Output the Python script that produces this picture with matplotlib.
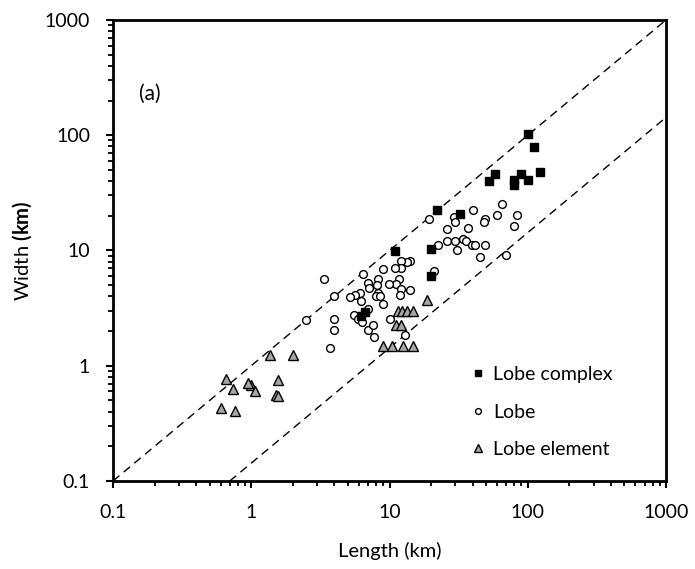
import numpy as np
import matplotlib
matplotlib.use("Agg")
import matplotlib.pyplot as plt
from matplotlib.ticker import LogLocator, FuncFormatter

plt.rcParams['font.family'] = ['Lato', 'DejaVu Sans']
plt.rcParams['mathtext.fontset'] = 'custom'
plt.rcParams['mathtext.rm'] = 'Lato'
plt.rcParams['mathtext.bf'] = 'Lato:bold'

# Lobe complex (filled squares)
complex_len = [100, 111, 122, 100, 90, 80, 79, 58, 52, 22, 32.5, 11, 20, 20, 6.6, 6.2]
complex_wid = [102, 79, 48, 41, 46, 41, 37, 46, 40, 22.3, 20.8, 9.9, 10.2, 6.0, 2.9, 2.7]

# Lobe (open circles)
lobe_len = [65, 40, 60, 83, 19.2, 29.4, 30, 49.4, 48, 26.2, 36.8, 79.6, 22.5, 25.9,
            29.6, 33.8, 35.8, 39.3, 41.3, 49.1, 30.8, 45.4, 69.6, 14.0, 13.3, 12.1,
            12.2, 11.0, 8.9, 6.4, 21.0, 11.8, 8.3, 3.36, 11.1, 9.9, 12.1, 12.0, 14.1,
            7.0, 7.1, 8.1, 8.3, 8.0, 8.5, 9.0, 6.1, 5.6, 5.15, 6.2, 4.0, 2.5, 4.0,
            4.0, 3.7, 5.5, 5.9, 6.3, 7.0, 7.0, 7.6, 7.75, 10.0, 12.9]
lobe_wid = [25.3, 22.4, 20.3, 20.3, 18.9, 19.6, 17.8, 18.7, 17.8, 15.4, 15.8, 16.3, 11.2, 12.2,
            12.2, 12.6, 12.2, 11.2, 11.2, 11.2, 10.0, 8.7, 9.2, 8.15, 7.9, 8.15,
            7.1, 7.1, 6.9, 6.2, 6.6, 5.7, 5.6, 5.7, 5.1, 5.1, 4.6, 4.1, 4.5,
            5.2, 4.75, 5.0, 4.25, 4.06, 4.06, 3.44, 4.25, 4.1, 3.97, 3.66, 4.06, 2.5, 2.55,
            2.04, 1.43, 2.76, 2.53, 2.4, 3.1, 2.04, 2.27, 1.77, 2.55, 1.84]

# Lobe element (grey triangles)
elem_len = [18.6, 11.6, 12.4, 13.4, 14.9, 11.1, 12.2, 8.9, 10.5, 12.6, 14.9, 1.37, 2.01,
            1.57, 1.0, 0.656, 0.735, 0.947, 1.06, 1.51, 1.57, 0.604, 0.759]
elem_wid = [3.72, 3.0, 3.0, 3.0, 3.0, 2.26, 2.26, 1.48, 1.48, 1.48, 1.48, 1.24, 1.24,
            0.75, 0.68, 0.76, 0.625, 0.713, 0.608, 0.557, 0.55, 0.428, 0.407]

# reference lines W = L and W = L/7
line_x = [0.1, 1000]
ratios = [1.0, 1 / 7]

fig = plt.figure(figsize=(6.95, 5.69), dpi=100)
ax = fig.add_axes([0.1626, 0.1547, 0.7957, 0.8102])

for r in ratios:
    ax.plot(line_x, [v * r for v in line_x], color='black', lw=1.0,
            ls=(0, (6, 4)), zorder=1)

h_lobe, = ax.plot(lobe_len, lobe_wid, 'o', ms=5.6, mfc='white', mec='black',
                  mew=1.0, ls='none', zorder=2)
h_cplx, = ax.plot(complex_len, complex_wid, 's', ms=5.8, mfc='black', mec='black',
                  mew=1.0, ls='none', zorder=3)
h_elem, = ax.plot(elem_len, elem_wid, '^', ms=7.5, mfc='#a6a6a6', mec='black',
                  mew=1.0, ls='none', zorder=4)

ax.set_xscale('log')
ax.set_yscale('log')
ax.set_xlim(0.1, 1000)
ax.set_ylim(0.1, 1000)

fmt = FuncFormatter(lambda v, p: '%g' % v)
for axis in (ax.xaxis, ax.yaxis):
    axis.set_major_locator(LogLocator(base=10, numticks=10))
    axis.set_minor_locator(LogLocator(base=10, subs=np.arange(2, 10), numticks=10))
    axis.set_major_formatter(fmt)

ax.tick_params(which='major', direction='out', length=5, width=1.5, labelsize=14, pad=11.5)
ax.tick_params(which='minor', direction='out', length=3.5, width=1.3)
for s in ax.spines.values():
    s.set_linewidth(2)

ax.set_xlabel('Length (km)', fontsize=14.5, labelpad=15)
ax.set_ylabel(r'Width $\mathbf{(km)}$', fontsize=14.5, labelpad=8)

ax.text(0.155, 230, '(a)', fontsize=15, ha='left', va='center')

ax.legend([h_cplx, h_lobe, h_elem], ['Lobe complex', 'Lobe', 'Lobe element'],
          loc='lower right', bbox_to_anchor=(0.935, 0.012), frameon=False,
          fontsize=14, markerscale=0.75, handlelength=0.9, handletextpad=0.3,
          labelspacing=1.05)

fig.savefig('out.png', dpi=100)
